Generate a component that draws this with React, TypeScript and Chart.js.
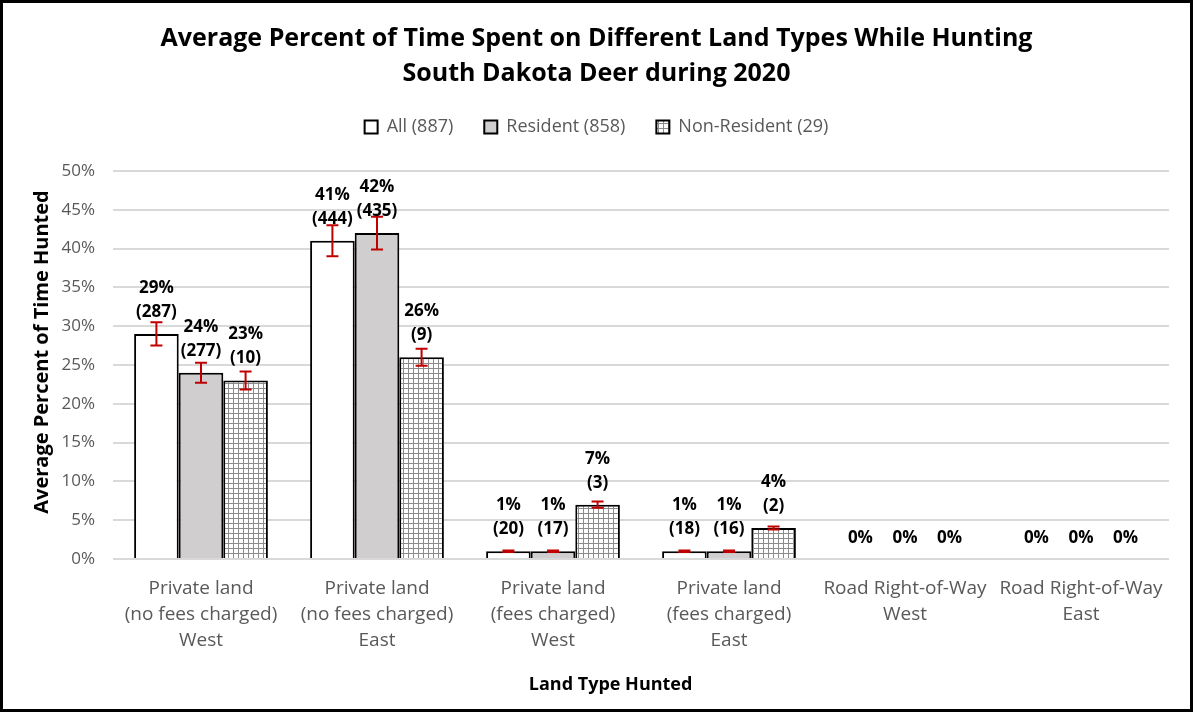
import React, { useEffect, useRef } from "react";
import { Chart, registerables } from "chart.js";

Chart.register(...registerables);

const categories: string[][] = [
  ["Private land", "(no fees charged)", "West"],
  ["Private land", "(no fees charged)", "East"],
  ["Private land", "(fees charged)", "West"],
  ["Private land", "(fees charged)", "East"],
  ["Road Right-of-Way", "West"],
  ["Road Right-of-Way", "East"],
];

const seriesNames = ["All (887)", "Resident (858)", "Non-Resident (29)"];

const allValues = [29, 41, 1, 1, 0, 0];
const residentValues = [24, 42, 1, 1, 0, 0];
const nonResidentValues = [23, 26, 7, 4, 0, 0];

const allCounts = [287, 444, 20, 18, null, null];
const residentCounts = [277, 435, 17, 16, null, null];
const nonResidentCounts = [10, 9, 3, 2, null, null];

const allErrors = [1.5, 2.0, 0.1, 0.1, 0, 0];
const residentErrors = [1.3, 2.1, 0.1, 0.1, 0, 0];
const nonResidentErrors = [1.15, 1.1, 0.4, 0.2, 0, 0];

const yTicks = [0, 5, 10, 15, 20, 25, 30, 35, 40, 45, 50];

const FONT = "'Open Sans', 'Noto Sans', sans-serif";

function makeGridPattern(): CanvasPattern | string {
  const c = document.createElement("canvas");
  c.width = 5;
  c.height = 5;
  const ctx = c.getContext("2d");
  if (!ctx) return "#ffffff";
  ctx.fillStyle = "#ffffff";
  ctx.fillRect(0, 0, 5, 5);
  ctx.fillStyle = "#8c8c8c";
  ctx.fillRect(0, 0, 5, 1);
  ctx.fillRect(0, 0, 1, 5);
  const p = ctx.createPattern(c, "repeat");
  return p || "#ffffff";
}

export default function App() {
  const canvasRef = useRef<HTMLCanvasElement | null>(null);

  useEffect(() => {
    const canvas = canvasRef.current;
    if (!canvas) return;
    const pattern = makeGridPattern();
    const counts = [allCounts, residentCounts, nonResidentCounts];
    const errors = [allErrors, residentErrors, nonResidentErrors];

    const legendSpace = {
      id: "legendSpace",
      beforeInit(chart: any) {
        const lg = chart.legend;
        if (!lg) return;
        const orig = lg.fit;
        lg.fit = function () {
          orig.call(this);
          this.height += 25;
        };
      },
    };

    const overlay = {
      id: "overlay",
      afterDatasetsDraw(chart: any) {
        const ctx = chart.ctx;
        const y = chart.scales.y;
        ctx.save();
        chart.data.datasets.forEach((ds: any, di: number) => {
          const meta = chart.getDatasetMeta(di);
          meta.data.forEach((bar: any, i: number) => {
            const v = ds.data[i];
            const e = errors[di][i];
            if (!e) return;
            const top = y.getPixelForValue(v + e);
            const bot = y.getPixelForValue(v - e);
            ctx.strokeStyle = "#c00000";
            ctx.lineWidth = 2;
            ctx.beginPath();
            ctx.moveTo(bar.x, top);
            ctx.lineTo(bar.x, bot);
            ctx.moveTo(bar.x - 6, top);
            ctx.lineTo(bar.x + 6, top);
            ctx.moveTo(bar.x - 6, bot);
            ctx.lineTo(bar.x + 6, bot);
            ctx.stroke();
          });
        });
        ctx.fillStyle = "#000000";
        ctx.font = `bold 17px ${FONT}`;
        ctx.textAlign = "center";
        ctx.textBaseline = "middle";
        chart.data.datasets.forEach((ds: any, di: number) => {
          const meta = chart.getDatasetMeta(di);
          meta.data.forEach((bar: any, i: number) => {
            const v = ds.data[i];
            const n = counts[di][i];
            const top = y.getPixelForValue(v);
            if (n === null || n === undefined) {
              ctx.fillText(`${v}%`, bar.x, top - 21);
            } else {
              ctx.fillText(`${v}%`, bar.x, top - 46);
              ctx.fillText(`(${n})`, bar.x, top - 22);
            }
          });
        });
        ctx.restore();
      },
    };

    const bw = (c: any) => (c.raw === 0 ? 0 : 2);

    const chart = new Chart(canvas, {
      type: "bar",
      data: {
        labels: categories,
        datasets: [
          { label: seriesNames[0], data: allValues, backgroundColor: "#ffffff", borderColor: "#000000", borderWidth: bw as any, borderSkipped: "bottom" },
          { label: seriesNames[1], data: residentValues, backgroundColor: "#d0cece", borderColor: "#000000", borderWidth: bw as any, borderSkipped: "bottom" },
          { label: seriesNames[2], data: nonResidentValues, backgroundColor: pattern as any, borderColor: "#000000", borderWidth: bw as any, borderSkipped: "bottom" },
        ],
      },
      options: {
        responsive: false,
        animation: false,
        layout: { padding: { left: 21, right: 21, top: 0, bottom: 0 } },
        datasets: { bar: { categoryPercentage: 0.76, barPercentage: 1 } },
        plugins: {
          title: {
            display: true,
            text: [
              "Average Percent of Time Spent on Different Land Types While Hunting",
              "South Dakota Deer during 2020",
            ],
            color: "#000000",
            font: { family: FONT, size: 25, weight: "bold", lineHeight: 1.4 },
            padding: { top: 18, bottom: -4 },
          },
          legend: {
            display: true,
            labels: {
              color: "#595959",
              font: { family: FONT, size: 18 },
              boxWidth: 13,
              boxHeight: 13,
              padding: 31,
            },
          },
          tooltip: { enabled: false },
        },
        scales: {
          x: {
            grid: { display: false },
            border: { display: false },
            ticks: {
              color: "#595959",
              font: { family: FONT, size: 19, lineHeight: 1.35 },
              padding: 9,
              maxRotation: 0,
              autoSkip: false,
            },
            title: {
              display: true,
              text: "Land Type Hunted             ",
              color: "#000000",
              font: { family: FONT, size: 18, weight: "bold" },
              padding: { top: 0, bottom: 13 },
            },
            afterFit(scale: any) {
              scale.height = 150;
            },
          },
          y: {
            min: 0,
            max: 50,
            afterBuildTicks(scale: any) {
              scale.ticks = yTicks.map((v) => ({ value: v }));
            },
            grid: { color: "#d9d9d9", lineWidth: 2, drawTicks: false },
            border: { display: false },
            ticks: {
              color: "#595959",
              font: { family: FONT, size: 17 },
              padding: 18,
              callback: (v: any) => `${v}%`,
            },
            title: {
              display: true,
              text: "     Average Percent of Time Hunted",
              color: "#000000",
              font: { family: FONT, size: 20, weight: "bold" },
              padding: { top: 6, bottom: 0 },
            },
            afterFit(scale: any) {
              scale.width = 89;
            },
          },
        },
      },
      plugins: [legendSpace, overlay],
    });

    return () => chart.destroy();
  }, []);

  return (
    <div
      style={{
        position: "fixed",
        left: 0,
        top: 0,
        width: 1193,
        height: 712,
        boxSizing: "border-box",
        border: "3px solid #000",
        background: "#fff",
      }}
    >
      <canvas ref={canvasRef} width={1187} height={706} style={{ display: "block" }} />
    </div>
  );
}
